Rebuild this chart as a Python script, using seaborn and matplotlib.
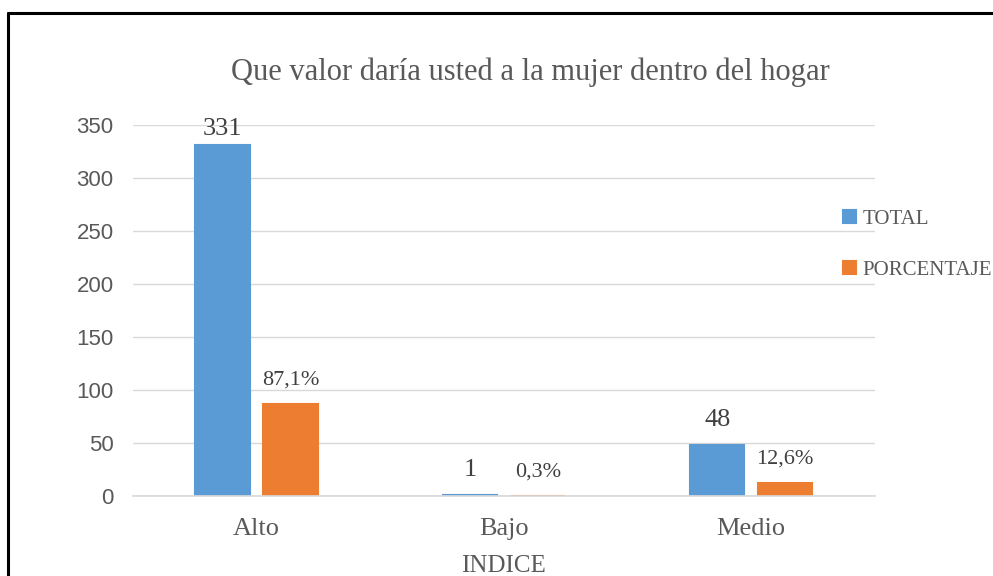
import pandas as pd
import matplotlib.pyplot as plt
import seaborn as sns
from matplotlib.lines import Line2D

categorias = ["Alto", "Bajo", "Medio"]
total = [331, 1, 48]
porcentaje = [87.1, 0.3, 12.6]
etiquetas_total = ["331", "1", "48"]
etiquetas_pct = ["87,1%", "0,3%", "12,6%"]
series = ["TOTAL", "PORCENTAJE"]
yticks = [0, 50, 100, 150, 200, 250, 300, 350]

df = pd.DataFrame({
    "INDICE": categorias * 2,
    "valor": total + porcentaje,
    "serie": [series[0]] * 3 + [series[1]] * 3,
})

sns.set_theme(style="white")
plt.rcParams["font.family"] = ["Liberation Serif", "DejaVu Serif"]
gris = "#595959"

fig = plt.figure(figsize=(9.93, 5.76), dpi=100)
ax = fig.add_axes([0.134, 0.139, 0.747, 0.644])
sns.barplot(data=df, x="INDICE", y="valor", hue="serie", hue_order=series,
            palette=["#5B9BD5", "#ED7D31"], saturation=1, width=0.55, gap=0.2,
            errorbar=None, ax=ax)
# borde del mismo color para que se vean las barras de Bajo
for p in ax.patches:
    p.set_edgecolor(p.get_facecolor())
    p.set_linewidth(1.5)

a1 = ax.bar_label(ax.containers[0], labels=etiquetas_total, padding=10,
                  fontsize=19, color="#404040")
ax.bar_label(ax.containers[1], labels=etiquetas_pct, padding=10,
             fontsize=16, color="#404040")
a1[0].xyann = (0, 4)

ax.set_ylim(0, 350)
ax.set_xlim(-0.5, 2.5)
ax.set_yticks(yticks)
ax.yaxis.grid(True, color="#D9D9D9", linewidth=1)
ax.set_axisbelow(True)
for s in ["left", "top", "right"]:
    ax.spines[s].set_visible(False)
ax.spines["bottom"].set_color("#D9D9D9")
ax.tick_params(axis="both", length=0)
ax.tick_params(axis="y", labelsize=16, labelcolor=gris, pad=14)
ax.tick_params(axis="x", labelsize=19, labelcolor=gris, pad=16)
for t in ax.get_yticklabels():
    t.set_fontfamily(["Liberation Sans", "DejaVu Sans"])
ax.set_ylabel("")
ax.set_xlabel("INDICE", fontsize=18, color=gris, labelpad=11)

fig.text(0.534, 0.875, "Que valor daría usted a la mujer dentro del hogar",
         ha="center", va="center", fontsize=22, color=gris)

leg = ax.legend(loc="center left", bbox_to_anchor=(0.849, 0.575),
                bbox_transform=fig.transFigure, frameon=False,
                handlelength=0.6, handleheight=0.6, handletextpad=0.35,
                labelspacing=1.55, borderpad=0, borderaxespad=0, fontsize=15)
for t in leg.get_texts():
    t.set_color(gris)

# marco negro de la captura
fig.add_artist(Line2D([8 / 993, 1], [1 - 13 / 576, 1 - 13 / 576],
                      transform=fig.transFigure, color="black", linewidth=2.2))
fig.add_artist(Line2D([8 / 993, 8 / 993], [0, 1 - 13 / 576],
                      transform=fig.transFigure, color="black", linewidth=2.2))

fig.savefig("out.png", dpi=100)
